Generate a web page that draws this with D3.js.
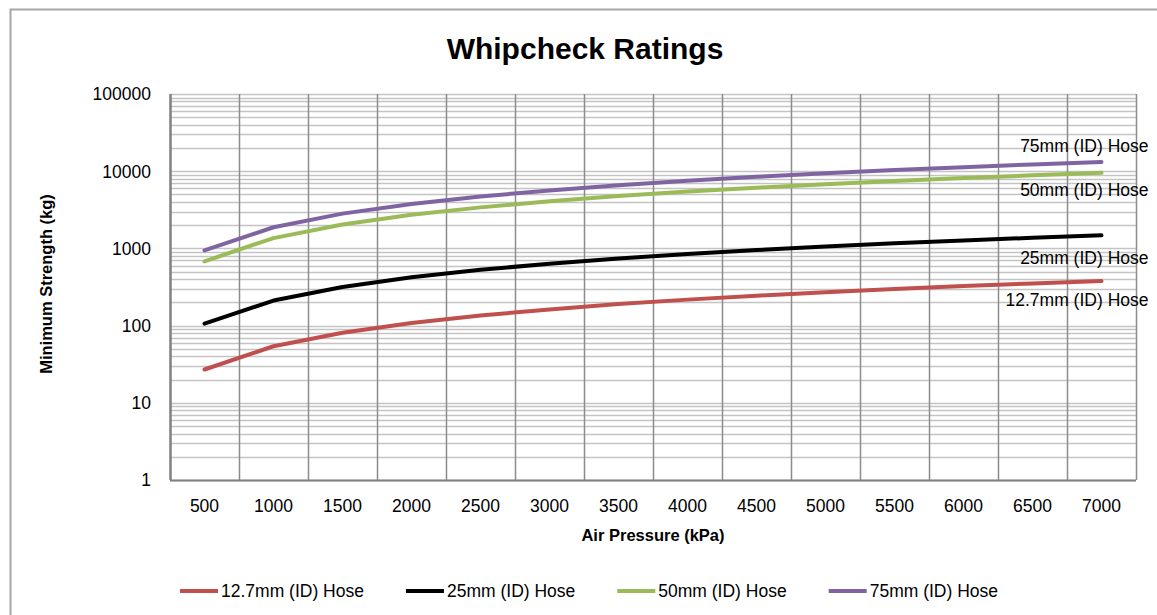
<!DOCTYPE html>
<html>
<head>
<meta charset="utf-8">
<script src="https://cdn.jsdelivr.net/npm/d3@7"></script>
<style>
  body { margin: 0; background: #fff; }
  text { font-family: "Liberation Sans", Arial, sans-serif; fill: #000; }
</style>
</head>
<body>
<div id="chart"></div>
<script>
// values
var pressures = ["500", "1000", "1500", "2000", "2500", "3000", "3500",
                 "4000", "4500", "5000", "5500", "6000", "6500", "7000"];
var hose127 = [27, 54, 81, 108, 135, 162, 190, 217, 244, 271, 298, 325, 352, 379];
var hose25  = [106, 211, 317, 423, 528, 634, 740, 845, 951, 1057, 1162, 1268, 1374, 1479];
var hose50  = [680, 1360, 2040, 2720, 3400, 4080, 4760, 5440, 6120, 6800, 7480, 8160, 8840, 9520];
var hose75  = [940, 1880, 2820, 3760, 4700, 5640, 6580, 7520, 8460, 9400, 10340, 11280, 12220, 13160];
var seriesNames = ["12.7mm (ID) Hose", "25mm (ID) Hose", "50mm (ID) Hose", "75mm (ID) Hose"];
var yTicks = [1, 10, 100, 1000, 10000, 100000];

var series = [
  {name: seriesNames[0], values: hose127, color: "#C0504D", dy: 19},
  {name: seriesNames[1], values: hose25,  color: "#000000", dy: 22},
  {name: seriesNames[2], values: hose50,  color: "#9BBB59", dy: 17},
  {name: seriesNames[3], values: hose75,  color: "#8064A2", dy: -16}
];

var W = 1157, H = 615;
var margin = {top: 94, right: 21, bottom: 135, left: 170},
    width = W - margin.left - margin.right,
    height = H - margin.top - margin.bottom;

var svg = d3.select("#chart").append("svg")
    .attr("width", W)
    .attr("height", H);

// outer chart border
svg.append("rect")
    .attr("x", 10.5).attr("y", 9.5)
    .attr("width", 1200).attr("height", 700)
    .attr("fill", "none")
    .attr("stroke", "#a6a6a6")
    .attr("stroke-width", 2);

var g = svg.append("g")
    .attr("transform", "translate(" + margin.left + "," + margin.top + ")");

var x = d3.scaleBand().domain(pressures).range([0, width]);
var y = d3.scaleLog().domain([1, 100000]).range([height, 0]);

// horizontal grid (major + minor)
var gridVals = [];
yTicks.forEach(function(t) {
  if (t === 100000) { gridVals.push(t); return; }
  for (var k = 1; k < 10; k++) gridVals.push(t * k);
});

g.selectAll(".hgrid")
    .data(gridVals)
  .enter().append("line")
    .attr("class", "hgrid")
    .attr("x1", 0).attr("x2", width)
    .attr("y1", function(d) { return Math.round(y(d)) + 0.5; })
    .attr("y2", function(d) { return Math.round(y(d)) + 0.5; })
    .attr("stroke", "#c4c4c4")
    .attr("stroke-width", 1.5);

// vertical grid at category boundaries
var vLines = pressures.map(function(p) { return x(p); }).concat([width]);
g.selectAll(".vgrid")
    .data(vLines.slice(1))
  .enter().append("line")
    .attr("class", "vgrid")
    .attr("x1", function(d) { return Math.round(d) + 0.5; })
    .attr("x2", function(d) { return Math.round(d) + 0.5; })
    .attr("y1", 0).attr("y2", height)
    .attr("stroke", "#8c8c8c")
    .attr("stroke-width", 1.5);

// axes lines
g.append("line")
    .attr("x1", 0.5).attr("x2", 0.5).attr("y1", 0).attr("y2", height)
    .attr("stroke", "#808080").attr("stroke-width", 2.5);
g.append("line")
    .attr("x1", 0).attr("x2", width).attr("y1", height + 0.5).attr("y2", height + 0.5)
    .attr("stroke", "#808080").attr("stroke-width", 2);

// y tick labels
g.selectAll(".ylab")
    .data(yTicks)
  .enter().append("text")
    .attr("class", "ylab")
    .attr("x", -19)
    .attr("y", function(d) { return y(d); })
    .attr("dy", "0.36em")
    .attr("text-anchor", "end")
    .style("font-size", "17.5px")
    .text(function(d) { return d; });

// x tick labels
g.selectAll(".xlab")
    .data(pressures)
  .enter().append("text")
    .attr("class", "xlab")
    .attr("x", function(d) { return x(d) + x.bandwidth() / 2; })
    .attr("y", height + 26)
    .attr("dy", "0.36em")
    .attr("text-anchor", "middle")
    .style("font-size", "17.5px")
    .text(function(d) { return d; });

// lines
var line = d3.line()
    .x(function(d, i) { return x(pressures[i]) + x.bandwidth() / 2; })
    .y(function(d) { return y(d); });

g.selectAll(".series")
    .data(series)
  .enter().append("path")
    .attr("class", "series")
    .attr("d", function(d) { return line(d.values); })
    .attr("fill", "none")
    .attr("stroke", function(d) { return d.color; })
    .attr("stroke-width", 4)
    .attr("stroke-linejoin", "round")
    .attr("stroke-linecap", "round");

// data labels at the last point
var last = pressures.length - 1;
g.selectAll(".dlab")
    .data(series)
  .enter().append("text")
    .attr("class", "dlab")
    .attr("x", x(pressures[last]) + x.bandwidth() / 2 + 47)
    .attr("y", function(d) { return y(d.values[last]) + d.dy; })
    .attr("dy", "0.36em")
    .attr("text-anchor", "end")
    .style("font-size", "17.5px")
    .text(function(d) { return d.name; });

// title
svg.append("text")
    .attr("x", 585).attr("y", 48)
    .attr("dy", "0.36em")
    .attr("text-anchor", "middle")
    .style("font-size", "30px")
    .style("font-weight", "bold")
    .text("Whipcheck Ratings");

// axis titles
svg.append("text")
    .attr("transform", "translate(46," + (margin.top + height / 2 - 3) + ")rotate(-90)")
    .attr("dy", "0.36em")
    .attr("text-anchor", "middle")
    .style("font-size", "16.5px")
    .style("font-weight", "bold")
    .text("Minimum Strength (kg)");

svg.append("text")
    .attr("x", 653).attr("y", 535)
    .attr("dy", "0.36em")
    .attr("text-anchor", "middle")
    .style("font-size", "16.5px")
    .style("font-weight", "bold")
    .text("Air Pressure (kPa)");

// legend
var legend = svg.append("g").attr("transform", "translate(0,591)");
var items = legend.selectAll(".leg")
    .data(series)
  .enter().append("g")
    .attr("class", "leg");
items.append("line")
    .attr("x1", 0).attr("x2", 38)
    .attr("stroke", function(d) { return d.color; })
    .attr("stroke-width", 4);
items.append("text")
    .attr("x", 41)
    .attr("dy", "0.36em")
    .style("font-size", "17.5px")
    .text(function(d) { return d.name; });

var offs = [], pos = 0;
items.each(function() {
  offs.push(pos);
  pos += 41 + d3.select(this).select("text").node().getComputedTextLength() + 42;
});
items.attr("transform", function(d, i) { return "translate(" + (180 + offs[i]) + ",0)"; });
</script>
</body>
</html>
